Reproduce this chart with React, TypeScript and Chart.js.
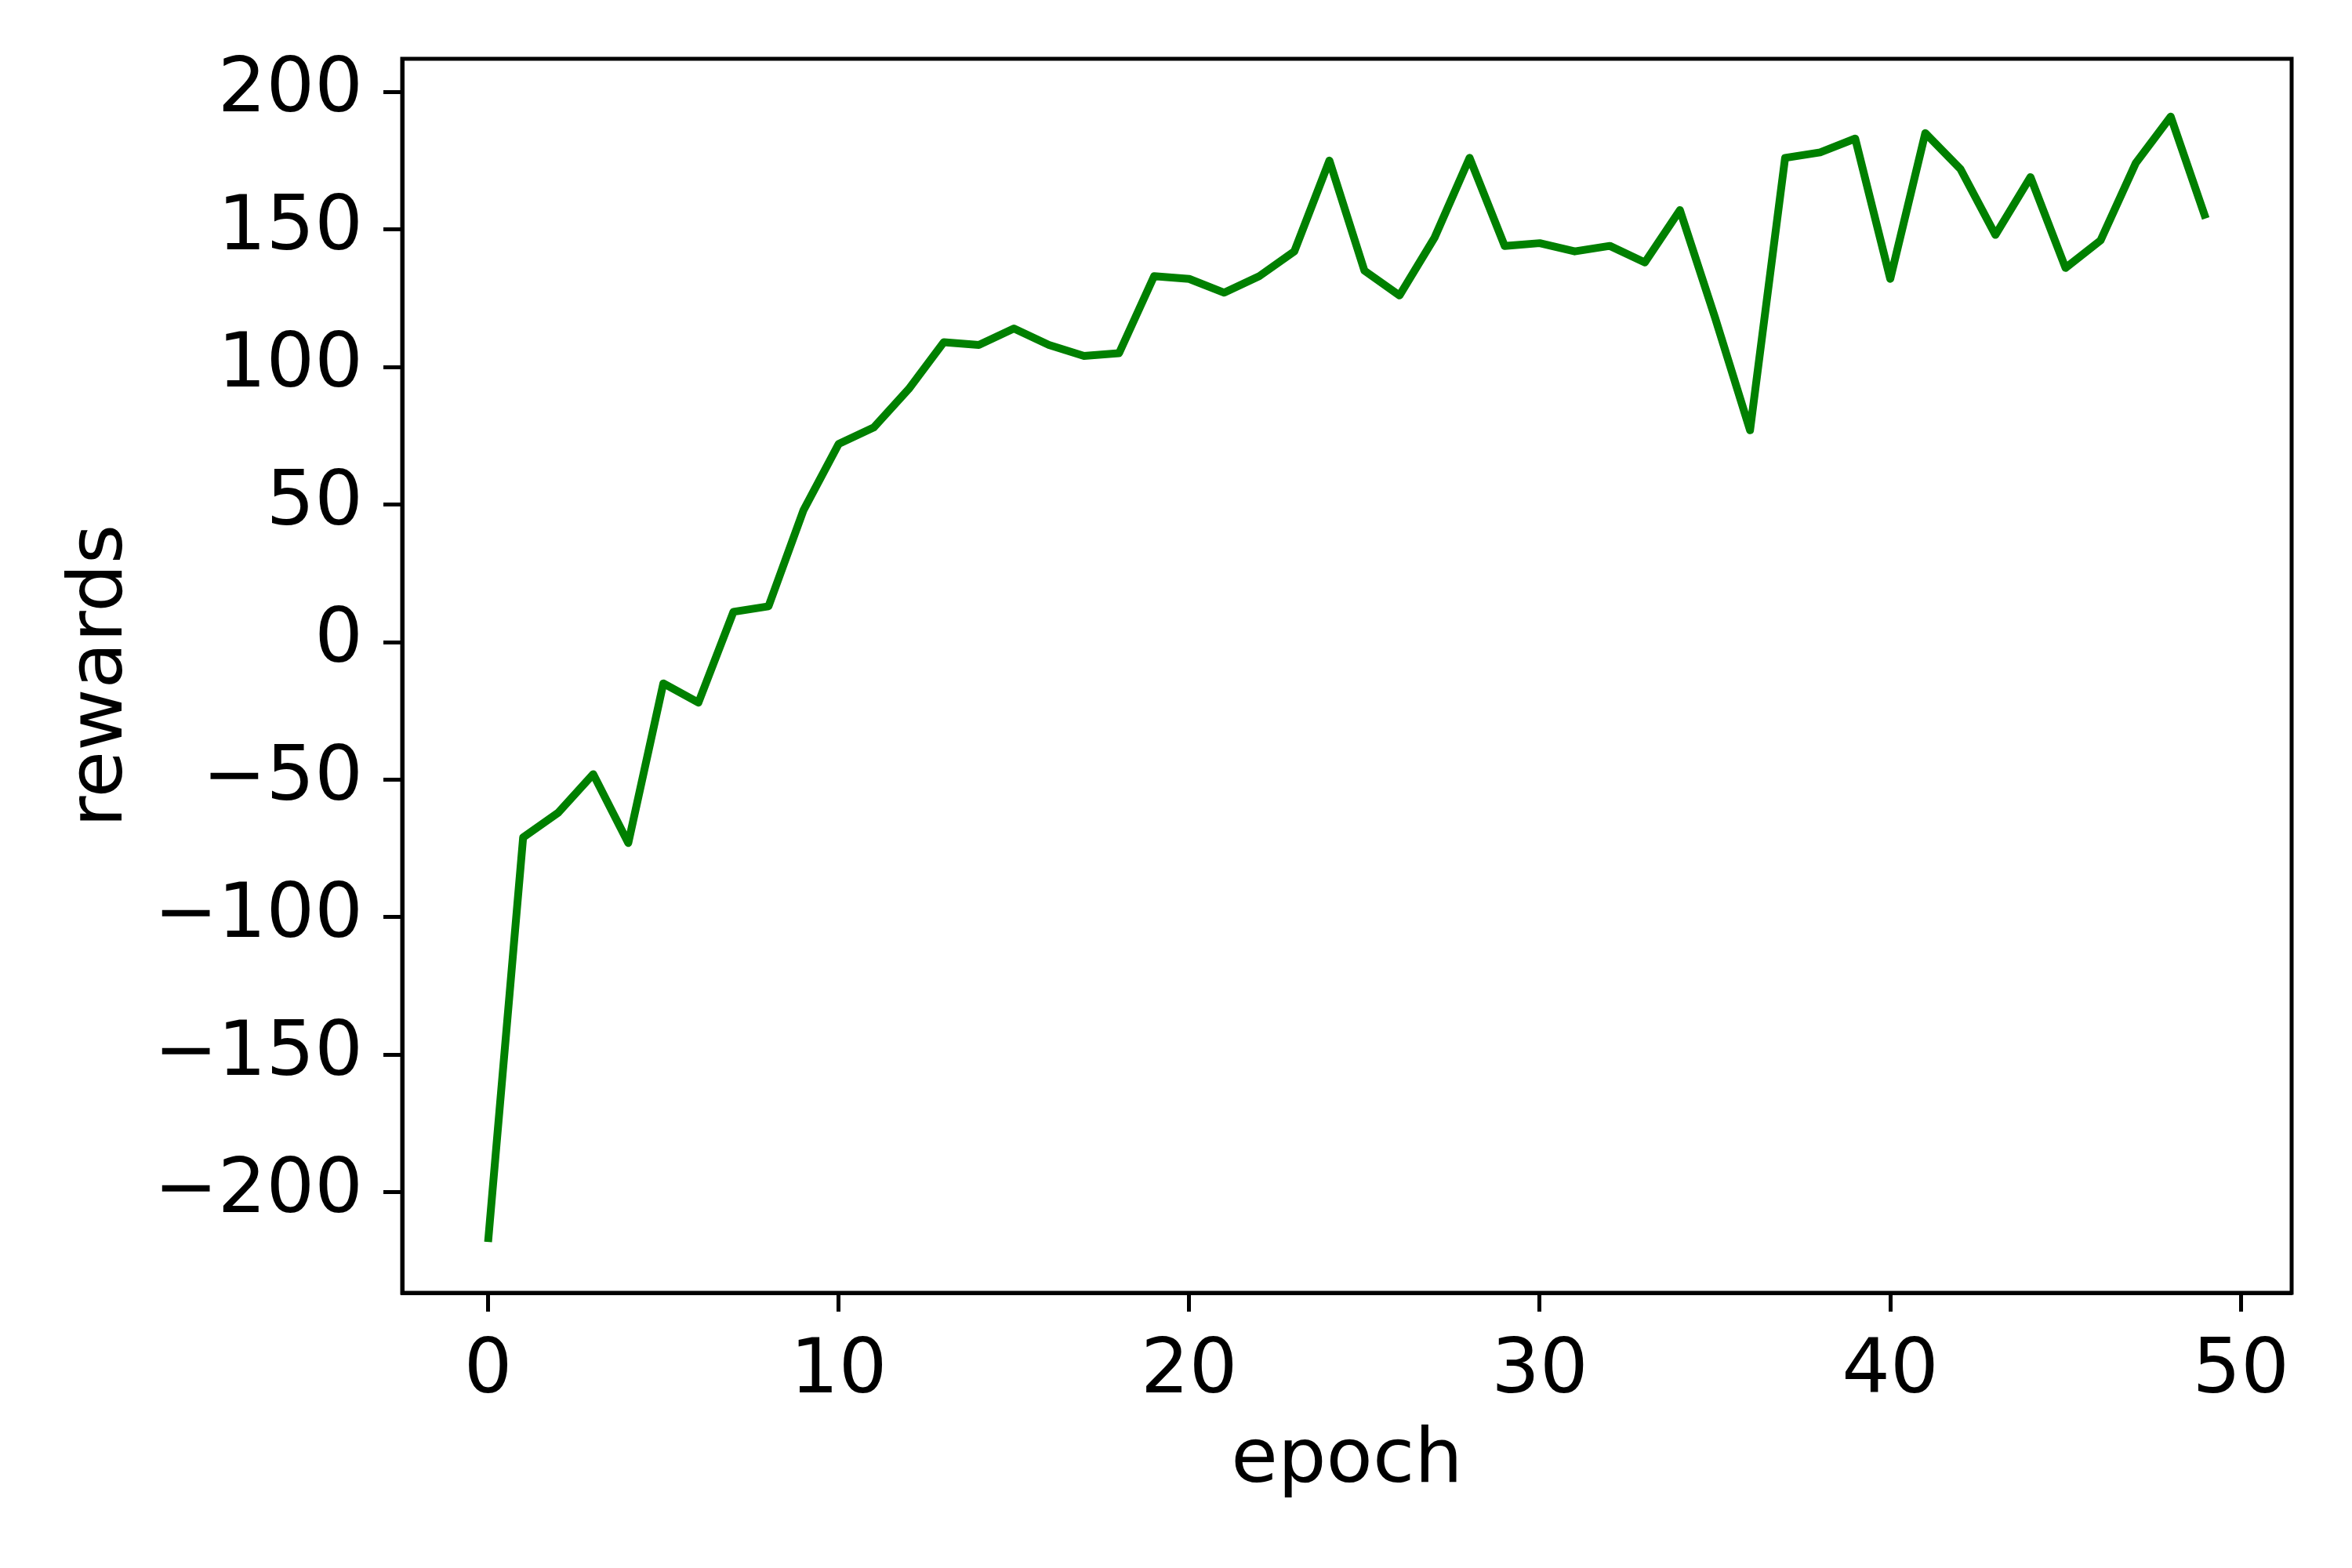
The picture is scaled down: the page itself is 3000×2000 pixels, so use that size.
import React, { useEffect, useRef } from "react";
import { Chart, registerables } from "chart.js";

Chart.register(...registerables);

const epochs: number[] = Array.from({ length: 50 }, (_, i) => i);
const rewards: number[] = [
  -218, -71, -62, -48, -73, -15, -22, 11, 13, 48,
  72, 78, 92, 109, 108, 114, 108, 104, 105, 133,
  132, 127, 133, 142, 175, 135, 126, 147, 176, 144,
  145, 142, 144, 138, 157, 118, 77, 176, 178, 183,
  132, 185, 172, 148, 169, 136, 146, 174, 191, 154,
];
const xTicks: number[] = [0, 10, 20, 30, 40, 50];
const yTicks: number[] = [-200, -150, -100, -50, 0, 50, 100, 150, 200];
const xTitle = "epoch";
const yTitle = "rewards";

const FONT = "DejaVu Sans";
const FS = 97;

export default function App() {
  const ref = useRef<HTMLCanvasElement | null>(null);
  useEffect(() => {
    if (!ref.current) return;
    const frame = {
      id: "frame",
      afterDraw(chart: any) {
        const { ctx, chartArea: a } = chart;
        ctx.save();
        ctx.strokeStyle = "#000";
        ctx.lineWidth = 5;
        ctx.strokeRect(a.left, a.top, a.right - a.left, a.bottom - a.top);
        ctx.restore();
      },
    };
    const chart = new Chart(ref.current, {
      type: "line",
      data: {
        datasets: [
          {
            data: epochs.map((e, i) => ({ x: e, y: rewards[i] })),
            borderColor: "#008000",
            borderWidth: 10,
            pointRadius: 0,
            tension: 0,
            fill: false,
            borderCapStyle: "butt",
            borderJoinStyle: "round",
          },
        ],
      },
      options: {
        responsive: false,
        animation: false,
        devicePixelRatio: 1,
        layout: { padding: { top: 75, right: 77, left: 0, bottom: 0 } },
        plugins: { legend: { display: false }, tooltip: { enabled: false } },
        scales: {
          x: {
            type: "linear",
            min: -2.45,
            max: 51.45,
            afterBuildTicks: (s: any) => {
              s.ticks = xTicks.map((v) => ({ value: v }));
            },
            afterFit: (s: any) => {
              s.height = 351;
              s.paddingLeft = 0;
              s.paddingRight = 0;
            },
            grid: {
              display: true,
              drawOnChartArea: false,
              drawTicks: true,
              tickLength: 24,
              tickWidth: 5,
              tickColor: "#000",
            },
            border: { display: true, color: "#000", width: 5 },
            ticks: {
              padding: 20,
              maxRotation: 0,
              autoSkip: false,
              color: "#000",
              font: { family: FONT, size: FS },
            },
            title: {
              display: true,
              text: xTitle,
              color: "#000",
              font: { family: FONT, size: FS },
              padding: { top: 0, bottom: 77 },
            },
          },
          y: {
            type: "linear",
            min: -236.5,
            max: 212,
            afterBuildTicks: (s: any) => {
              s.ticks = yTicks.map((v) => ({ value: v }));
            },
            afterFit: (s: any) => {
              s.width = 513;
              s.paddingTop = 0;
              s.paddingBottom = 0;
            },
            grid: {
              display: true,
              drawOnChartArea: false,
              drawTicks: true,
              tickLength: 24,
              tickWidth: 5,
              tickColor: "#000",
            },
            border: { display: true, color: "#000", width: 5 },
            ticks: {
              padding: 26,
              autoSkip: false,
              color: "#000",
              font: { family: FONT, size: FS },
              callback: (v: any) => (Number(v) < 0 ? "\u2212" + Math.abs(Number(v)) : String(v)),
            },
            title: {
              display: true,
              text: yTitle,
              color: "#000",
              font: { family: FONT, size: FS },
              padding: { top: 72, bottom: 0 },
            },
          },
        },
      },
      plugins: [frame],
    });
    return () => chart.destroy();
  }, []);
  return (
    <div style={{ position: "absolute", left: 0, top: 0, width: 3000, height: 2000, background: "#fff" }}>
      <canvas ref={ref} width={3000} height={2000} style={{ width: 3000, height: 2000 }} />
    </div>
  );
}
